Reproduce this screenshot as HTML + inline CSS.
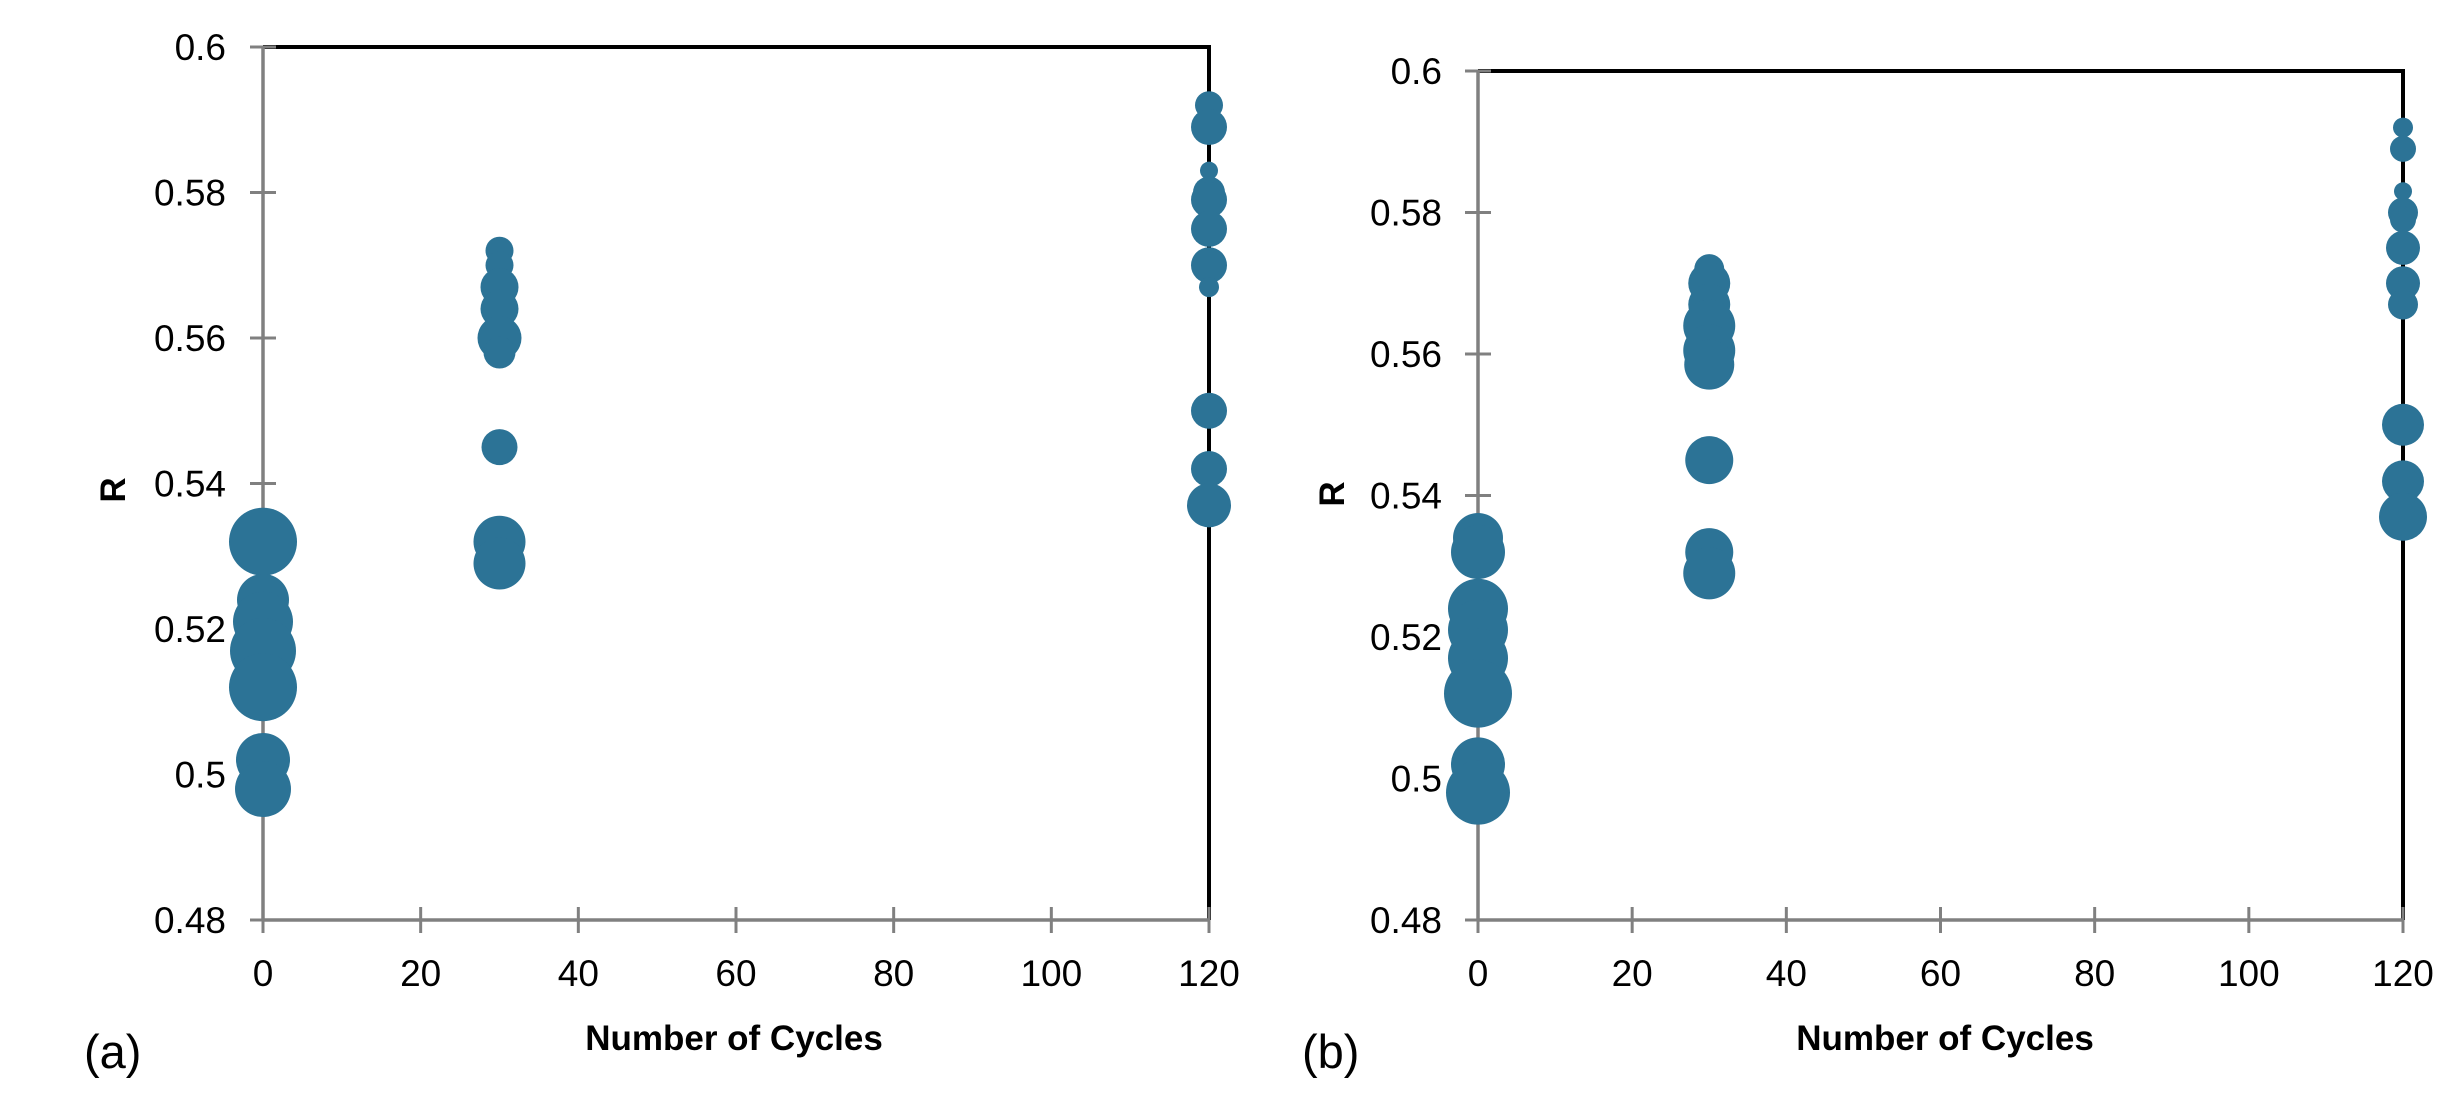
<!DOCTYPE html>
<html><head><meta charset="utf-8"><style>
html,body{margin:0;padding:0;background:#fff}
svg{display:block}
text{font-family:"Liberation Sans",sans-serif;fill:#000}
</style></head><body>
<svg id="chart" width="2458" height="1110" viewBox="0 0 2458 1110"></svg>
<script>
// Panel (a) data
const aX = [0,0,0,0,0,0,0, 30,30,30,30,30,30,30,30,30, 120,120,120,120,120,120,120,120,120,120,120];
const aY = [0.532,0.524,0.521,0.517,0.512,0.502,0.498, 0.572,0.570,0.567,0.564,0.560,0.558,0.545,0.532,0.529, 0.592,0.589,0.583,0.580,0.579,0.575,0.570,0.567,0.550,0.542,0.537];
const aR = [34,26,30,33,34,27,28, 14,14,19,19,22,16,18,26,26, 14,18,9,16,18,18,18,10,18,18,22];
// Panel (b) data
const bX = [0,0,0,0,0,0,0,0, 30,30,30,30,30,30,30,30,30, 120,120,120,120,120,120,120,120,120,120,120];
const bY = [0.534,0.532,0.524,0.521,0.517,0.512,0.502,0.498, 0.572,0.570,0.567,0.564,0.5605,0.5585,0.545,0.532,0.529, 0.592,0.589,0.583,0.580,0.579,0.575,0.570,0.567,0.550,0.542,0.537];
const bR = [25,27,30,30,30,34,27,32, 15,21,21,26,26,25,24,24,26, 10,13,9,15,13,17,17,15,21,21,24];
const xTicks = [0,20,40,60,80,100,120];
const yTicks = [0.48,0.5,0.52,0.54,0.56,0.58,0.6];
const yTickLabels = ["0.48","0.5","0.52","0.54","0.56","0.58","0.6"];

const NS = "http://www.w3.org/2000/svg";
const svg = document.getElementById("chart");
function mk(tag, attrs, parent){const e=document.createElementNS(NS,tag);for(const k in attrs)e.setAttribute(k,attrs[k]);(parent||svg).appendChild(e);return e;}

function panel(cfg, xs, ys, rs){
  const g = mk("g",{});
  
  
  const sx = v => cfg.x0 + (v-0)/(120-0)*(cfg.x1-cfg.x0);
  const sy = v => cfg.y0 - (v-0.48)/(0.6-0.48)*(cfg.y0-cfg.y1);
  const fr = mk("path",{d:`M${sx(0)} ${sy(0.6)} H${sx(120)} V${sy(0.48)}`,stroke:"#000","stroke-width":4,fill:"none"},g);
  
  
  const ya = mk("line",{x1:sx(0),y1:sy(0.6),x2:sx(0),y2:sy(0.48),stroke:"#808080","stroke-width":3.5},g);
  
  
  const xa = mk("line",{x1:sx(0),y1:sy(0.48),x2:sx(120),y2:sy(0.48),stroke:"#808080","stroke-width":3.5},g);
  
  
  yTicks.forEach((t,i)=>{
    const l = mk("line",{x1:sx(0)-13,y1:sy(t),x2:sx(0)+13,y2:sy(t),stroke:"#808080","stroke-width":3},g);
    
    
    const tx = mk("text",{x:cfg.ylabX,y:sy(t)+13,"text-anchor":"end","font-size":37},g);
    tx.textContent = yTickLabels[i];
    
    
  });
  xTicks.forEach(t=>{
    const l = mk("line",{x1:sx(t),y1:sy(0.48)-13,x2:sx(t),y2:sy(0.48)+13,stroke:"#808080","stroke-width":3},g);
    
    
    const tx = mk("text",{x:sx(t),y:986,"text-anchor":"middle","font-size":37},g);
    tx.textContent = String(t);
    
    
  });
  xs.forEach((v,i)=>{
    const c = mk("circle",{cx:sx(v),cy:sy(ys[i]),r:rs[i],fill:"#2C7396"},g);
    
    
  });
  const xt = mk("text",{x:cfg.titleX,y:1050,"text-anchor":"middle","font-size":35,"font-weight":"bold"},g);
  xt.textContent = "Number of Cycles";
  
  
  const yt = mk("text",{x:0,y:0,"text-anchor":"middle","font-size":35,"font-weight":"bold",transform:`translate(${cfg.rX},${cfg.rY}) rotate(-90)`},g);
  yt.textContent = "R";
  
  
  const pl = mk("text",{x:cfg.plX,y:1068,"font-size":47},g);
  pl.textContent = cfg.label;
  
  
}
panel({name:"panel-a",x0:263,x1:1209,y0:920,y1:47,ylabX:226,titleX:734,rX:125,rY:490,plX:84,label:"(a)"}, aX,aY,aR);
panel({name:"panel-b",x0:1478,x1:2403,y0:920,y1:71,ylabX:1442,titleX:1945,rX:1344,rY:494,plX:1302,label:"(b)"}, bX,bY,bR);
</script>
</body></html>
